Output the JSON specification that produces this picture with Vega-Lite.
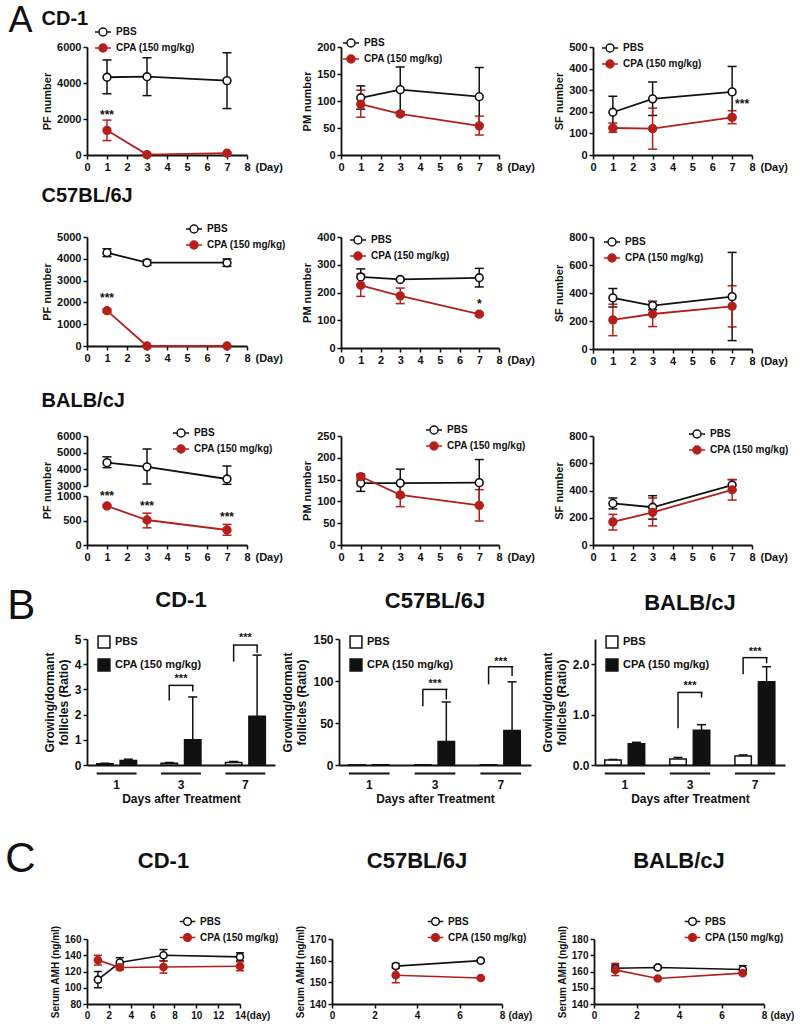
{
"$schema":"https://vega.github.io/schema/vega-lite/v6.json",
"background":"white",
"padding":{"left":5,"top":3,"right":5,"bottom":3},
"config":{
 "font":"Liberation Sans",
 "numberFormat":"d",
 "view":{"stroke":null},
 "axis":{"labelFont":"Liberation Sans","labelFontWeight":"bold","labelFontSize":11,"labelColor":"#111","titleFont":"Liberation Sans","titleFontWeight":"bold","titleFontSize":11,"titleColor":"#111","domainColor":"#111","domainWidth":1.8,"tickColor":"#111","tickWidth":1.5,"tickSize":4,"grid":false,"labelPadding":2,"titlePadding":4,"labelOverlap":false,"labelFlush":false},
 "legend":{"labelFont":"Liberation Sans","labelFontWeight":"bold","labelFontSize":10,"labelColor":"#111","symbolStrokeWidth":1.5,"rowPadding":-3,"labelOffset":4,"padding":0},
 "title":{"font":"Liberation Sans","fontWeight":"bold","color":"#111"},
 "point":{"opacity":1},
 "tick":{"opacity":1}
},
"columns":1,
"align":"none",
"spacing":23,
"resolve":{"scale":{"color":"independent","stroke":"independent","fill":"independent"}},
"concat":[
{
 "title":{"text":"A","anchor":"start","align":"left","baseline":"top","offset":-31,"dx":-33,"fontSize":36,"fontWeight":"normal"},
 "spacing":14,
 "resolve":{"scale":{"color":"independent","stroke":"independent","fill":"independent"}},
 "vconcat":[
 {
  "title":{"text":"CD-1","anchor":"start","fontSize":20,"offset":-6},
  "spacing":94,"bounds":"flush",
  "resolve":{"scale":{"color":"independent","stroke":"independent","fill":"independent"}},
  "hconcat":[
   {"width":160,"height":108,
    "data":{"values":[
     {"day":1,"group":"PBS","mean":4320,"lo":3400,"hi":5280},
     {"day":3,"group":"PBS","mean":4350,"lo":3300,"hi":5400},
     {"day":7,"group":"PBS","mean":4130,"lo":2580,"hi":5680},
     {"day":1,"group":"CPA (150 mg/kg)","mean":1370,"lo":800,"hi":1940},
     {"day":3,"group":"CPA (150 mg/kg)","mean":20,"lo":0,"hi":40},
     {"day":7,"group":"CPA (150 mg/kg)","mean":100,"lo":60,"hi":140}]},
    "encoding":{"x":{"field":"day","type":"quantitative","scale":{"domain":[0,8],"nice":false},"axis":{"values":[0,1,2,3,4,5,6,7,8],"tickCount":20,"title":"(Day)","titleX":168,"titleY":6,"titleAlign":"left","titleBaseline":"top"}}},
    "layer":[
     {"mark":{"type":"errorbar","thickness":1.5,"ticks":{"size":9,"thickness":1.5}},"encoding":{"y":{"field":"lo","type":"quantitative","scale":{"domain":[0,6000],"nice":false},"axis":{"values":[0,2000,4000,6000],"tickCount":20,"title":"PF number"}},"y2":{"field":"hi"},"color":{"field":"group","type":"nominal","scale":{"domain":["CPA (150 mg/kg)","PBS"],"range":["#b3201c","#111"]},"legend":null}}},
     {"mark":{"type":"line","strokeWidth":1.8},"encoding":{"y":{"field":"mean","type":"quantitative"},"stroke":{"field":"group","type":"nominal","scale":{"domain":["PBS","CPA (150 mg/kg)"],"range":["#111","#b3201c"]}}}},
     {"mark":{"type":"point","filled":true,"size":60,"strokeWidth":1.6,"opacity":1},"encoding":{"y":{"field":"mean","type":"quantitative"},"stroke":{"field":"group","type":"nominal","legend":{"orient":"none","legendX":7,"legendY":-24,"title":null,"symbolType":"M-1,0L-0.5,0M0.5,0L1,0M0.5,0A0.5,0.5,0,1,1,-0.5,0A0.5,0.5,0,1,1,0.5,0Z","symbolSize":256}},"fill":{"field":"group","type":"nominal","scale":{"domain":["PBS","CPA (150 mg/kg)"],"range":["white","#b3201c"]},"legend":{"orient":"none","legendX":7,"legendY":-24,"title":null,"symbolType":"M-1,0L-0.5,0M0.5,0L1,0M0.5,0A0.5,0.5,0,1,1,-0.5,0A0.5,0.5,0,1,1,0.5,0Z","symbolSize":256}}}},
     {"data":{"values":[{"day":1,"sy":2250,"s":"***"}]},"mark":{"type":"text","fontWeight":"bold","fontSize":12,"color":"#111"},"encoding":{"y":{"field":"sy","type":"quantitative"},"text":{"field":"s"}}}
    ]},
   {"width":158,"height":108,
    "data":{"values":[
     {"day":1,"group":"PBS","mean":106,"lo":85,"hi":128},
     {"day":3,"group":"PBS","mean":121,"lo":80,"hi":163},
     {"day":7,"group":"PBS","mean":108,"lo":55,"hi":162},
     {"day":1,"group":"CPA (150 mg/kg)","mean":94,"lo":70,"hi":120},
     {"day":3,"group":"CPA (150 mg/kg)","mean":76,"lo":73,"hi":79},
     {"day":7,"group":"CPA (150 mg/kg)","mean":54,"lo":37,"hi":72}]},
    "encoding":{"x":{"field":"day","type":"quantitative","scale":{"domain":[0,8],"nice":false},"axis":{"values":[0,1,2,3,4,5,6,7,8],"tickCount":20,"title":"(Day)","titleX":166,"titleY":6,"titleAlign":"left","titleBaseline":"top"}}},
    "layer":[
     {"mark":{"type":"errorbar","thickness":1.5,"ticks":{"size":9,"thickness":1.5}},"encoding":{"y":{"field":"lo","type":"quantitative","scale":{"domain":[0,200],"nice":false},"axis":{"values":[0,50,100,150,200],"tickCount":20,"title":"PM number"}},"y2":{"field":"hi"},"color":{"field":"group","type":"nominal","scale":{"domain":["CPA (150 mg/kg)","PBS"],"range":["#b3201c","#111"]},"legend":null}}},
     {"mark":{"type":"line","strokeWidth":1.8},"encoding":{"y":{"field":"mean","type":"quantitative"},"stroke":{"field":"group","type":"nominal","scale":{"domain":["PBS","CPA (150 mg/kg)"],"range":["#111","#b3201c"]}}}},
     {"mark":{"type":"point","filled":true,"size":60,"strokeWidth":1.6,"opacity":1},"encoding":{"y":{"field":"mean","type":"quantitative"},"stroke":{"field":"group","type":"nominal","legend":{"orient":"none","legendX":1,"legendY":-13,"title":null,"symbolType":"M-1,0L-0.5,0M0.5,0L1,0M0.5,0A0.5,0.5,0,1,1,-0.5,0A0.5,0.5,0,1,1,0.5,0Z","symbolSize":256}},"fill":{"field":"group","type":"nominal","scale":{"domain":["PBS","CPA (150 mg/kg)"],"range":["white","#b3201c"]},"legend":{"orient":"none","legendX":1,"legendY":-13,"title":null,"symbolType":"M-1,0L-0.5,0M0.5,0L1,0M0.5,0A0.5,0.5,0,1,1,-0.5,0A0.5,0.5,0,1,1,0.5,0Z","symbolSize":256}}}}
    ]},
   {"width":159,"height":108,
    "data":{"values":[
     {"day":1,"group":"PBS","mean":198,"lo":125,"hi":272},
     {"day":3,"group":"PBS","mean":260,"lo":183,"hi":338},
     {"day":7,"group":"PBS","mean":292,"lo":175,"hi":410},
     {"day":1,"group":"CPA (150 mg/kg)","mean":125,"lo":105,"hi":148},
     {"day":3,"group":"CPA (150 mg/kg)","mean":122,"lo":27,"hi":217},
     {"day":7,"group":"CPA (150 mg/kg)","mean":174,"lo":145,"hi":205}]},
    "encoding":{"x":{"field":"day","type":"quantitative","scale":{"domain":[0,8],"nice":false},"axis":{"values":[0,1,2,3,4,5,6,7,8],"tickCount":20,"title":"(Day)","titleX":167,"titleY":6,"titleAlign":"left","titleBaseline":"top"}}},
    "layer":[
     {"mark":{"type":"errorbar","thickness":1.5,"ticks":{"size":9,"thickness":1.5}},"encoding":{"y":{"field":"lo","type":"quantitative","scale":{"domain":[0,500],"nice":false},"axis":{"values":[0,100,200,300,400,500],"tickCount":20,"title":"SF number"}},"y2":{"field":"hi"},"color":{"field":"group","type":"nominal","scale":{"domain":["CPA (150 mg/kg)","PBS"],"range":["#b3201c","#111"]},"legend":null}}},
     {"mark":{"type":"line","strokeWidth":1.8},"encoding":{"y":{"field":"mean","type":"quantitative"},"stroke":{"field":"group","type":"nominal","scale":{"domain":["PBS","CPA (150 mg/kg)"],"range":["#111","#b3201c"]}}}},
     {"mark":{"type":"point","filled":true,"size":60,"strokeWidth":1.6,"opacity":1},"encoding":{"y":{"field":"mean","type":"quantitative"},"stroke":{"field":"group","type":"nominal","legend":{"orient":"none","legendX":8,"legendY":-8,"title":null,"symbolType":"M-1,0L-0.5,0M0.5,0L1,0M0.5,0A0.5,0.5,0,1,1,-0.5,0A0.5,0.5,0,1,1,0.5,0Z","symbolSize":256}},"fill":{"field":"group","type":"nominal","scale":{"domain":["PBS","CPA (150 mg/kg)"],"range":["white","#b3201c"]},"legend":{"orient":"none","legendX":8,"legendY":-8,"title":null,"symbolType":"M-1,0L-0.5,0M0.5,0L1,0M0.5,0A0.5,0.5,0,1,1,-0.5,0A0.5,0.5,0,1,1,0.5,0Z","symbolSize":256}}}},
     {"data":{"values":[{"day":7.5,"sy":235,"s":"***"}]},"mark":{"type":"text","fontWeight":"bold","fontSize":12,"color":"#111"},"encoding":{"y":{"field":"sy","type":"quantitative"},"text":{"field":"s"}}}
    ]}
  ]
 },
 {
  "title":{"text":"C57BL/6J","anchor":"start","fontSize":20,"offset":14},
  "spacing":94,"bounds":"flush",
  "resolve":{"scale":{"color":"independent","stroke":"independent","fill":"independent"}},
  "hconcat":[
   {"width":160,"height":109,
    "data":{"values":[
     {"day":1,"group":"PBS","mean":4280,"lo":4100,"hi":4460},
     {"day":3,"group":"PBS","mean":3820,"lo":3700,"hi":3940},
     {"day":7,"group":"PBS","mean":3820,"lo":3650,"hi":3990},
     {"day":1,"group":"CPA (150 mg/kg)","mean":1620,"lo":1550,"hi":1690},
     {"day":3,"group":"CPA (150 mg/kg)","mean":0,"lo":0,"hi":0},
     {"day":7,"group":"CPA (150 mg/kg)","mean":0,"lo":0,"hi":0}]},
    "encoding":{"x":{"field":"day","type":"quantitative","scale":{"domain":[0,8],"nice":false},"axis":{"values":[0,1,2,3,4,5,6,7,8],"tickCount":20,"title":"(Day)","titleX":168,"titleY":6,"titleAlign":"left","titleBaseline":"top"}}},
    "layer":[
     {"mark":{"type":"errorbar","thickness":1.5,"ticks":{"size":9,"thickness":1.5}},"encoding":{"y":{"field":"lo","type":"quantitative","scale":{"domain":[0,5000],"nice":false},"axis":{"values":[0,1000,2000,3000,4000,5000],"tickCount":20,"title":"PF  number"}},"y2":{"field":"hi"},"color":{"field":"group","type":"nominal","scale":{"domain":["CPA (150 mg/kg)","PBS"],"range":["#b3201c","#111"]},"legend":null}}},
     {"mark":{"type":"line","strokeWidth":1.8},"encoding":{"y":{"field":"mean","type":"quantitative"},"stroke":{"field":"group","type":"nominal","scale":{"domain":["PBS","CPA (150 mg/kg)"],"range":["#111","#b3201c"]}}}},
     {"mark":{"type":"point","filled":true,"size":60,"strokeWidth":1.6,"opacity":1},"encoding":{"y":{"field":"mean","type":"quantitative"},"stroke":{"field":"group","type":"nominal","legend":{"orient":"none","legendX":98,"legendY":-17,"title":null,"symbolType":"M-1,0L-0.5,0M0.5,0L1,0M0.5,0A0.5,0.5,0,1,1,-0.5,0A0.5,0.5,0,1,1,0.5,0Z","symbolSize":256}},"fill":{"field":"group","type":"nominal","scale":{"domain":["PBS","CPA (150 mg/kg)"],"range":["white","#b3201c"]},"legend":{"orient":"none","legendX":98,"legendY":-17,"title":null,"symbolType":"M-1,0L-0.5,0M0.5,0L1,0M0.5,0A0.5,0.5,0,1,1,-0.5,0A0.5,0.5,0,1,1,0.5,0Z","symbolSize":256}}}},
     {"data":{"values":[{"day":1,"sy":2180,"s":"***"}]},"mark":{"type":"text","fontWeight":"bold","fontSize":12,"color":"#111"},"encoding":{"y":{"field":"sy","type":"quantitative"},"text":{"field":"s"}}}
    ]},
   {"width":158,"height":111,
    "data":{"values":[
     {"day":1,"group":"PBS","mean":256,"lo":226,"hi":285},
     {"day":3,"group":"PBS","mean":247,"lo":243,"hi":251},
     {"day":7,"group":"PBS","mean":253,"lo":220,"hi":287},
     {"day":1,"group":"CPA (150 mg/kg)","mean":226,"lo":186,"hi":266},
     {"day":3,"group":"CPA (150 mg/kg)","mean":188,"lo":160,"hi":216},
     {"day":7,"group":"CPA (150 mg/kg)","mean":122,"lo":117,"hi":127}]},
    "encoding":{"x":{"field":"day","type":"quantitative","scale":{"domain":[0,8],"nice":false},"axis":{"values":[0,1,2,3,4,5,6,7,8],"tickCount":20,"title":"(Day)","titleX":166,"titleY":6,"titleAlign":"left","titleBaseline":"top"}}},
    "layer":[
     {"mark":{"type":"errorbar","thickness":1.5,"ticks":{"size":9,"thickness":1.5}},"encoding":{"y":{"field":"lo","type":"quantitative","scale":{"domain":[0,400],"nice":false},"axis":{"values":[0,100,200,300,400],"tickCount":20,"title":"PM number"}},"y2":{"field":"hi"},"color":{"field":"group","type":"nominal","scale":{"domain":["CPA (150 mg/kg)","PBS"],"range":["#b3201c","#111"]},"legend":null}}},
     {"mark":{"type":"line","strokeWidth":1.8},"encoding":{"y":{"field":"mean","type":"quantitative"},"stroke":{"field":"group","type":"nominal","scale":{"domain":["PBS","CPA (150 mg/kg)"],"range":["#111","#b3201c"]}}}},
     {"mark":{"type":"point","filled":true,"size":60,"strokeWidth":1.6,"opacity":1},"encoding":{"y":{"field":"mean","type":"quantitative"},"stroke":{"field":"group","type":"nominal","legend":{"orient":"none","legendX":8,"legendY":-6,"title":null,"symbolType":"M-1,0L-0.5,0M0.5,0L1,0M0.5,0A0.5,0.5,0,1,1,-0.5,0A0.5,0.5,0,1,1,0.5,0Z","symbolSize":256}},"fill":{"field":"group","type":"nominal","scale":{"domain":["PBS","CPA (150 mg/kg)"],"range":["white","#b3201c"]},"legend":{"orient":"none","legendX":8,"legendY":-6,"title":null,"symbolType":"M-1,0L-0.5,0M0.5,0L1,0M0.5,0A0.5,0.5,0,1,1,-0.5,0A0.5,0.5,0,1,1,0.5,0Z","symbolSize":256}}}},
     {"data":{"values":[{"day":7,"sy":160,"s":"*"}]},"mark":{"type":"text","fontWeight":"bold","fontSize":12,"color":"#111"},"encoding":{"y":{"field":"sy","type":"quantitative"},"text":{"field":"s"}}}
    ]},
   {"width":159,"height":112,
    "data":{"values":[
     {"day":1,"group":"PBS","mean":365,"lo":300,"hi":432},
     {"day":3,"group":"PBS","mean":310,"lo":280,"hi":340},
     {"day":7,"group":"PBS","mean":374,"lo":60,"hi":690},
     {"day":1,"group":"CPA (150 mg/kg)","mean":208,"lo":95,"hi":320},
     {"day":3,"group":"CPA (150 mg/kg)","mean":250,"lo":160,"hi":340},
     {"day":7,"group":"CPA (150 mg/kg)","mean":305,"lo":158,"hi":452}]},
    "encoding":{"x":{"field":"day","type":"quantitative","scale":{"domain":[0,8],"nice":false},"axis":{"values":[0,1,2,3,4,5,6,7,8],"tickCount":20,"title":"(Day)","titleX":167,"titleY":6,"titleAlign":"left","titleBaseline":"top"}}},
    "layer":[
     {"mark":{"type":"errorbar","thickness":1.5,"ticks":{"size":9,"thickness":1.5}},"encoding":{"y":{"field":"lo","type":"quantitative","scale":{"domain":[0,800],"nice":false},"axis":{"values":[0,200,400,600,800],"tickCount":20,"title":"SF number"}},"y2":{"field":"hi"},"color":{"field":"group","type":"nominal","scale":{"domain":["CPA (150 mg/kg)","PBS"],"range":["#b3201c","#111"]},"legend":null}}},
     {"mark":{"type":"line","strokeWidth":1.8},"encoding":{"y":{"field":"mean","type":"quantitative"},"stroke":{"field":"group","type":"nominal","scale":{"domain":["PBS","CPA (150 mg/kg)"],"range":["#111","#b3201c"]}}}},
     {"mark":{"type":"point","filled":true,"size":60,"strokeWidth":1.6,"opacity":1},"encoding":{"y":{"field":"mean","type":"quantitative"},"stroke":{"field":"group","type":"nominal","legend":{"orient":"none","legendX":10,"legendY":-4,"title":null,"symbolType":"M-1,0L-0.5,0M0.5,0L1,0M0.5,0A0.5,0.5,0,1,1,-0.5,0A0.5,0.5,0,1,1,0.5,0Z","symbolSize":256}},"fill":{"field":"group","type":"nominal","scale":{"domain":["PBS","CPA (150 mg/kg)"],"range":["white","#b3201c"]},"legend":{"orient":"none","legendX":10,"legendY":-4,"title":null,"symbolType":"M-1,0L-0.5,0M0.5,0L1,0M0.5,0A0.5,0.5,0,1,1,-0.5,0A0.5,0.5,0,1,1,0.5,0Z","symbolSize":256}}}}
    ]}
  ]
 },
 {
  "title":{"text":["","BALB/cJ"],"lineHeight":11,"anchor":"start","fontSize":20,"offset":10},
  "spacing":94,"bounds":"flush",
  "resolve":{"scale":{"color":"independent","stroke":"independent","fill":"independent"}},
  "hconcat":[
   {"width":160,"height":109,
    "encoding":{"x":{"field":"day","type":"quantitative","scale":{"domain":[0,8],"nice":false},"axis":{"values":[0,1,2,3,4,5,6,7,8],"tickCount":20,"title":"(Day)","titleX":168,"titleY":6,"titleAlign":"left","titleBaseline":"top"}}},
    "resolve":{"scale":{"y":"independent"}},
    "layer":[
     {"data":{"values":[
       {"day":1,"group":"PBS","mean":4400,"lo":4100,"hi":4750},
       {"day":3,"group":"PBS","mean":4150,"lo":3120,"hi":5220},
       {"day":7,"group":"PBS","mean":3420,"lo":3100,"hi":4200}]},
      "layer":[
       {"mark":{"type":"errorbar","thickness":1.5,"ticks":{"size":9,"thickness":1.5}},"encoding":{"y":{"field":"lo","type":"quantitative","scale":{"domain":[3000,6000],"range":[50,0],"nice":false,"zero":false},"axis":{"values":[3000,4000,5000,6000],"tickCount":20,"title":null,"orient":"left"}},"y2":{"field":"hi"},"color":{"field":"group","type":"nominal","scale":{"domain":["CPA (150 mg/kg)","PBS"],"range":["#b3201c","#111"]},"legend":null}}},
       {"mark":{"type":"line","strokeWidth":1.8},"encoding":{"y":{"field":"mean","type":"quantitative"},"stroke":{"field":"group","type":"nominal","scale":{"domain":["PBS","CPA (150 mg/kg)"],"range":["#111","#b3201c"]}}}},
       {"mark":{"type":"point","filled":true,"size":60,"strokeWidth":1.6,"opacity":1},"encoding":{"y":{"field":"mean","type":"quantitative"},"stroke":{"field":"group","type":"nominal","legend":{"orient":"none","legendX":85,"legendY":-12,"title":null,"symbolType":"M-1,0L-0.5,0M0.5,0L1,0M0.5,0A0.5,0.5,0,1,1,-0.5,0A0.5,0.5,0,1,1,0.5,0Z","symbolSize":256}},"fill":{"field":"group","type":"nominal","scale":{"domain":["PBS","CPA (150 mg/kg)"],"range":["white","#b3201c"]},"legend":{"orient":"none","legendX":85,"legendY":-12,"title":null,"symbolType":"M-1,0L-0.5,0M0.5,0L1,0M0.5,0A0.5,0.5,0,1,1,-0.5,0A0.5,0.5,0,1,1,0.5,0Z","symbolSize":256}}}}
      ]},
     {"data":{"values":[
       {"day":1,"group":"CPA (150 mg/kg)","mean":796,"lo":770,"hi":822},
       {"day":3,"group":"CPA (150 mg/kg)","mean":510,"lo":350,"hi":650},
       {"day":7,"group":"CPA (150 mg/kg)","mean":306,"lo":200,"hi":420}]},
      "layer":[
       {"mark":{"type":"errorbar","thickness":1.5,"ticks":{"size":9,"thickness":1.5}},"encoding":{"y":{"field":"lo","type":"quantitative","scale":{"domain":[0,1000],"range":[109,60],"nice":false},"axis":{"values":[0,500,1000],"tickCount":20,"title":"PF  number","orient":"left","titleY":54}},"y2":{"field":"hi"},"color":{"field":"group","type":"nominal","scale":{"domain":["CPA (150 mg/kg)","PBS"],"range":["#b3201c","#111"]},"legend":null}}},
       {"mark":{"type":"line","strokeWidth":1.8},"encoding":{"y":{"field":"mean","type":"quantitative"},"stroke":{"field":"group","type":"nominal"}}},
       {"mark":{"type":"point","filled":true,"size":60,"strokeWidth":1.6,"opacity":1},"encoding":{"y":{"field":"mean","type":"quantitative"},"stroke":{"field":"group","type":"nominal"},"fill":{"field":"group","type":"nominal"}}},
       {"data":{"values":[{"day":1,"sy":1000,"s":"***"},{"day":3,"sy":800,"s":"***"},{"day":7,"sy":570,"s":"***"}]},"mark":{"type":"text","fontWeight":"bold","fontSize":12,"color":"#111"},"encoding":{"y":{"field":"sy","type":"quantitative"},"text":{"field":"s"}}}
      ]}
    ]},
   {"width":158,"height":109,
    "data":{"values":[
     {"day":1,"group":"PBS","mean":142,"lo":123,"hi":160},
     {"day":3,"group":"PBS","mean":142,"lo":110,"hi":174},
     {"day":7,"group":"PBS","mean":143,"lo":90,"hi":196},
     {"day":1,"group":"CPA (150 mg/kg)","mean":157,"lo":150,"hi":163},
     {"day":3,"group":"CPA (150 mg/kg)","mean":115,"lo":88,"hi":140},
     {"day":7,"group":"CPA (150 mg/kg)","mean":91,"lo":55,"hi":127}]},
    "encoding":{"x":{"field":"day","type":"quantitative","scale":{"domain":[0,8],"nice":false},"axis":{"values":[0,1,2,3,4,5,6,7,8],"tickCount":20,"title":"(Day)","titleX":166,"titleY":6,"titleAlign":"left","titleBaseline":"top"}}},
    "layer":[
     {"mark":{"type":"errorbar","thickness":1.5,"ticks":{"size":9,"thickness":1.5}},"encoding":{"y":{"field":"lo","type":"quantitative","scale":{"domain":[0,250],"nice":false},"axis":{"values":[0,50,100,150,200,250],"tickCount":20,"title":"PM number"}},"y2":{"field":"hi"},"color":{"field":"group","type":"nominal","scale":{"domain":["CPA (150 mg/kg)","PBS"],"range":["#b3201c","#111"]},"legend":null}}},
     {"mark":{"type":"line","strokeWidth":1.8},"encoding":{"y":{"field":"mean","type":"quantitative"},"stroke":{"field":"group","type":"nominal","scale":{"domain":["PBS","CPA (150 mg/kg)"],"range":["#111","#b3201c"]}}}},
     {"mark":{"type":"point","filled":true,"size":60,"strokeWidth":1.6,"opacity":1},"encoding":{"y":{"field":"mean","type":"quantitative"},"stroke":{"field":"group","type":"nominal","legend":{"orient":"none","legendX":84,"legendY":-15,"title":null,"symbolType":"M-1,0L-0.5,0M0.5,0L1,0M0.5,0A0.5,0.5,0,1,1,-0.5,0A0.5,0.5,0,1,1,0.5,0Z","symbolSize":256}},"fill":{"field":"group","type":"nominal","scale":{"domain":["PBS","CPA (150 mg/kg)"],"range":["white","#b3201c"]},"legend":{"orient":"none","legendX":84,"legendY":-15,"title":null,"symbolType":"M-1,0L-0.5,0M0.5,0L1,0M0.5,0A0.5,0.5,0,1,1,-0.5,0A0.5,0.5,0,1,1,0.5,0Z","symbolSize":256}}}}
    ]},
   {"width":159,"height":109,
    "data":{"values":[
     {"day":1,"group":"PBS","mean":305,"lo":265,"hi":345},
     {"day":3,"group":"PBS","mean":277,"lo":190,"hi":362},
     {"day":7,"group":"PBS","mean":440,"lo":400,"hi":480},
     {"day":1,"group":"CPA (150 mg/kg)","mean":170,"lo":110,"hi":225},
     {"day":3,"group":"CPA (150 mg/kg)","mean":240,"lo":140,"hi":345},
     {"day":7,"group":"CPA (150 mg/kg)","mean":405,"lo":330,"hi":480}]},
    "encoding":{"x":{"field":"day","type":"quantitative","scale":{"domain":[0,8],"nice":false},"axis":{"values":[0,1,2,3,4,5,6,7,8],"tickCount":20,"title":"(Day)","titleX":167,"titleY":6,"titleAlign":"left","titleBaseline":"top"}}},
    "layer":[
     {"mark":{"type":"errorbar","thickness":1.5,"ticks":{"size":9,"thickness":1.5}},"encoding":{"y":{"field":"lo","type":"quantitative","scale":{"domain":[0,800],"nice":false},"axis":{"values":[0,200,400,600,800],"tickCount":20,"title":"SF number"}},"y2":{"field":"hi"},"color":{"field":"group","type":"nominal","scale":{"domain":["CPA (150 mg/kg)","PBS"],"range":["#b3201c","#111"]},"legend":null}}},
     {"mark":{"type":"line","strokeWidth":1.8},"encoding":{"y":{"field":"mean","type":"quantitative"},"stroke":{"field":"group","type":"nominal","scale":{"domain":["PBS","CPA (150 mg/kg)"],"range":["#111","#b3201c"]}}}},
     {"mark":{"type":"point","filled":true,"size":60,"strokeWidth":1.6,"opacity":1},"encoding":{"y":{"field":"mean","type":"quantitative"},"stroke":{"field":"group","type":"nominal","legend":{"orient":"none","legendX":95,"legendY":-11,"title":null,"symbolType":"M-1,0L-0.5,0M0.5,0L1,0M0.5,0A0.5,0.5,0,1,1,-0.5,0A0.5,0.5,0,1,1,0.5,0Z","symbolSize":256}},"fill":{"field":"group","type":"nominal","scale":{"domain":["PBS","CPA (150 mg/kg)"],"range":["white","#b3201c"]},"legend":{"orient":"none","legendX":95,"legendY":-11,"title":null,"symbolType":"M-1,0L-0.5,0M0.5,0L1,0M0.5,0A0.5,0.5,0,1,1,-0.5,0A0.5,0.5,0,1,1,0.5,0Z","symbolSize":256}}}}
    ]}
  ]
 }
 ]
},
{
 "title":{"text":"B","anchor":"start","align":"left","baseline":"top","offset":-39,"dx":-36,"fontSize":42,"fontWeight":"normal"},
 "spacing":64,"bounds":"flush",
 "resolve":{"scale":{"color":"independent","stroke":"independent","fill":"independent"}},
 "hconcat":[
  {"width":188,"height":126,
   "title":{"text":"CD-1","frame":"group","fontSize":22,"font":"Liberation Sans Narrow, Liberation Sans","offset":20},
   "layer":[
    {"data":{"values":[
      {"day":"1","group":"PBS","mean":0.05,"hi":0.07},
      {"day":"1","group":"CPA (150 mg/kg)","mean":0.18,"hi":0.23},
      {"day":"3","group":"PBS","mean":0.07,"hi":0.1},
      {"day":"3","group":"CPA (150 mg/kg)","mean":1.0,"hi":2.7},
      {"day":"7","group":"PBS","mean":0.1,"hi":0.14},
      {"day":"7","group":"CPA (150 mg/kg)","mean":1.93,"hi":4.36}]},
     "mark":{"type":"bar","stroke":"#111","strokeWidth":1.5},
     "encoding":{
      "x":{"field":"day","type":"nominal","scale":{"domain":["1","3","7"],"paddingInner":0.38,"paddingOuter":0.15},"axis":{"title":"Days after Treatment","ticks":false,"labelPadding":14,"labelAngle":0,"labelFontSize":12,"titleFontSize":12,"titlePadding":3,"labelFont":"Liberation Sans Narrow, Liberation Sans","titleFont":"Liberation Sans Narrow, Liberation Sans"}},
      "xOffset":{"field":"group","type":"nominal","scale":{"domain":["PBS","CPA (150 mg/kg)"],"paddingInner":0.3}},
      "y":{"field":"mean","type":"quantitative","scale":{"domain":[0,5],"nice":false},"axis":{"values":[0,1,2,3,4,5],"tickCount":20,"title":["Growing/dormant","follicles (Ratio)"],"titleFontSize":12,"labelFontSize":12,"labelFont":"Liberation Sans Narrow, Liberation Sans","titleFont":"Liberation Sans Narrow, Liberation Sans"}},
      "fill":{"field":"group","type":"nominal","scale":{"domain":["PBS","CPA (150 mg/kg)"],"range":["white","#111"]},"legend":{"orient":"none","legendX":10,"legendY":-4,"title":null,"symbolType":"square","symbolSize":140,"symbolStrokeColor":"#111","symbolStrokeWidth":1.5,"labelFontSize":11,"rowPadding":5,"labelFont":"Liberation Sans Narrow, Liberation Sans"}}}},
    {"data":{"values":[
      {"day":"1","group":"PBS","mean":0.05,"hi":0.07},
      {"day":"1","group":"CPA (150 mg/kg)","mean":0.18,"hi":0.23},
      {"day":"3","group":"PBS","mean":0.07,"hi":0.1},
      {"day":"3","group":"CPA (150 mg/kg)","mean":1.0,"hi":2.7},
      {"day":"7","group":"PBS","mean":0.1,"hi":0.14},
      {"day":"7","group":"CPA (150 mg/kg)","mean":1.93,"hi":4.36}]},
     "mark":{"type":"rule","strokeWidth":1.5,"color":"#111"},
     "encoding":{"x":{"field":"day","type":"nominal"},"xOffset":{"field":"group","type":"nominal"},"y":{"field":"mean","type":"quantitative"},"y2":{"field":"hi"}}},
    {"data":{"values":[
      {"day":"1","group":"PBS","hi":0.07},
      {"day":"1","group":"CPA (150 mg/kg)","hi":0.23},
      {"day":"3","group":"PBS","hi":0.1},
      {"day":"3","group":"CPA (150 mg/kg)","hi":2.7},
      {"day":"7","group":"PBS","hi":0.14},
      {"day":"7","group":"CPA (150 mg/kg)","hi":4.36}]},
     "mark":{"type":"tick","orient":"horizontal","size":9,"thickness":1.5,"color":"#111","opacity":1},
     "encoding":{"x":{"field":"day","type":"nominal"},"xOffset":{"field":"group","type":"nominal"},"y":{"field":"hi","type":"quantitative"}}},
    {"data":{"values":[{"day":"1"},{"day":"3"},{"day":"7"}]},
     "mark":{"type":"bar","color":"#111"},
     "encoding":{"x":{"field":"day","type":"nominal"},"y":{"datum":-0.3},"y2":{"datum":-0.38}}},
    {"data":{"values":[{"day":"3","top":3.16,"pl":2.56,"cl":2.92,"star":3.42},{"day":"7","top":4.76,"pl":4.1,"cl":4.45,"star":5.02}]},
     "layer":[
      {"mark":{"type":"rule","strokeWidth":1.5,"color":"#111"},"encoding":{"x":{"field":"day","type":"nominal"},"xOffset":{"datum":"PBS"},"y":{"field":"pl","type":"quantitative"},"y2":{"field":"top"}}},
      {"mark":{"type":"rule","strokeWidth":1.5,"color":"#111"},"encoding":{"x":{"field":"day","type":"nominal"},"xOffset":{"datum":"CPA (150 mg/kg)"},"y":{"field":"cl","type":"quantitative"},"y2":{"field":"top"}}},
      {"mark":{"type":"tick","orient":"horizontal","size":25,"thickness":1.5,"color":"#111","opacity":1},"encoding":{"x":{"field":"day","type":"nominal"},"y":{"field":"top","type":"quantitative"}}},
      {"mark":{"type":"text","fontWeight":"bold","fontSize":11,"font":"Liberation Sans Narrow, Liberation Sans","color":"#111"},"encoding":{"x":{"field":"day","type":"nominal"},"y":{"field":"star","type":"quantitative"},"text":{"value":"***"}}}
     ]}
   ]},
  {"width":192,"height":126,
   "title":{"text":"C57BL/6J","frame":"group","fontSize":22,"font":"Liberation Sans Narrow, Liberation Sans","offset":20},
   "layer":[
    {"data":{"values":[
      {"day":"1","group":"PBS","mean":0.2,"hi":0.3},
      {"day":"1","group":"CPA (150 mg/kg)","mean":0.3,"hi":0.5},
      {"day":"3","group":"PBS","mean":0.3,"hi":0.5},
      {"day":"3","group":"CPA (150 mg/kg)","mean":28,"hi":75},
      {"day":"7","group":"PBS","mean":0.3,"hi":0.5},
      {"day":"7","group":"CPA (150 mg/kg)","mean":41,"hi":99}]},
     "mark":{"type":"bar","stroke":"#111","strokeWidth":1.5},
     "encoding":{
      "x":{"field":"day","type":"nominal","scale":{"domain":["1","3","7"],"paddingInner":0.38,"paddingOuter":0.15},"axis":{"title":"Days after Treatment","ticks":false,"labelPadding":14,"labelAngle":0,"labelFontSize":12,"titleFontSize":12,"titlePadding":3,"labelFont":"Liberation Sans Narrow, Liberation Sans","titleFont":"Liberation Sans Narrow, Liberation Sans"}},
      "xOffset":{"field":"group","type":"nominal","scale":{"domain":["PBS","CPA (150 mg/kg)"],"paddingInner":0.3}},
      "y":{"field":"mean","type":"quantitative","scale":{"domain":[0,150],"nice":false},"axis":{"values":[0,50,100,150],"tickCount":20,"title":["Growing/dormant","follicles (Ratio)"],"titleFontSize":12,"labelFontSize":12,"labelFont":"Liberation Sans Narrow, Liberation Sans","titleFont":"Liberation Sans Narrow, Liberation Sans"}},
      "fill":{"field":"group","type":"nominal","scale":{"domain":["PBS","CPA (150 mg/kg)"],"range":["white","#111"]},"legend":{"orient":"none","legendX":10,"legendY":-4,"title":null,"symbolType":"square","symbolSize":140,"symbolStrokeColor":"#111","symbolStrokeWidth":1.5,"labelFontSize":11,"rowPadding":5,"labelFont":"Liberation Sans Narrow, Liberation Sans"}}}},
    {"data":{"values":[
      {"day":"1","group":"PBS","mean":0.2,"hi":0.3},
      {"day":"1","group":"CPA (150 mg/kg)","mean":0.3,"hi":0.5},
      {"day":"3","group":"PBS","mean":0.3,"hi":0.5},
      {"day":"3","group":"CPA (150 mg/kg)","mean":28,"hi":75},
      {"day":"7","group":"PBS","mean":0.3,"hi":0.5},
      {"day":"7","group":"CPA (150 mg/kg)","mean":41,"hi":99}]},
     "mark":{"type":"rule","strokeWidth":1.5,"color":"#111"},
     "encoding":{"x":{"field":"day","type":"nominal"},"xOffset":{"field":"group","type":"nominal"},"y":{"field":"mean","type":"quantitative"},"y2":{"field":"hi"}}},
    {"data":{"values":[
      {"day":"3","group":"CPA (150 mg/kg)","hi":75},
      {"day":"7","group":"CPA (150 mg/kg)","hi":99}]},
     "mark":{"type":"tick","orient":"horizontal","size":9,"thickness":1.5,"color":"#111","opacity":1},
     "encoding":{"x":{"field":"day","type":"nominal"},"xOffset":{"field":"group","type":"nominal"},"y":{"field":"hi","type":"quantitative"}}},
    {"data":{"values":[{"day":"1"},{"day":"3"},{"day":"7"}]},
     "mark":{"type":"bar","color":"#111"},
     "encoding":{"x":{"field":"day","type":"nominal"},"y":{"datum":-9},"y2":{"datum":-11.4}}},
    {"data":{"values":[{"day":"3","top":90,"pl":70,"cl":78,"star":96},{"day":"7","top":117,"pl":96,"cl":106,"star":123}]},
     "layer":[
      {"mark":{"type":"rule","strokeWidth":1.5,"color":"#111"},"encoding":{"x":{"field":"day","type":"nominal"},"xOffset":{"datum":"PBS"},"y":{"field":"pl","type":"quantitative"},"y2":{"field":"top"}}},
      {"mark":{"type":"rule","strokeWidth":1.5,"color":"#111"},"encoding":{"x":{"field":"day","type":"nominal"},"xOffset":{"datum":"CPA (150 mg/kg)"},"y":{"field":"cl","type":"quantitative"},"y2":{"field":"top"}}},
      {"mark":{"type":"tick","orient":"horizontal","size":25,"thickness":1.5,"color":"#111","opacity":1},"encoding":{"x":{"field":"day","type":"nominal"},"y":{"field":"top","type":"quantitative"}}},
      {"mark":{"type":"text","fontWeight":"bold","fontSize":11,"font":"Liberation Sans Narrow, Liberation Sans","color":"#111"},"encoding":{"x":{"field":"day","type":"nominal"},"y":{"field":"star","type":"quantitative"},"text":{"value":"***"}}}
     ]}
   ]},
  {"width":190,"height":126,
   "title":{"text":"BALB/cJ","frame":"group","fontSize":22,"font":"Liberation Sans Narrow, Liberation Sans","offset":20},
   "layer":[
    {"data":{"values":[
      {"day":"1","group":"PBS","mean":0.1,"hi":0.11},
      {"day":"1","group":"CPA (150 mg/kg)","mean":0.42,"hi":0.45},
      {"day":"3","group":"PBS","mean":0.12,"hi":0.15},
      {"day":"3","group":"CPA (150 mg/kg)","mean":0.69,"hi":0.8},
      {"day":"7","group":"PBS","mean":0.18,"hi":0.2},
      {"day":"7","group":"CPA (150 mg/kg)","mean":1.65,"hi":1.95}]},
     "mark":{"type":"bar","stroke":"#111","strokeWidth":1.5},
     "encoding":{
      "x":{"field":"day","type":"nominal","scale":{"domain":["1","3","7"],"paddingInner":0.38,"paddingOuter":0.15},"axis":{"title":"Days after Treatment","ticks":false,"labelPadding":14,"labelAngle":0,"labelFontSize":12,"titleFontSize":12,"titlePadding":3,"labelFont":"Liberation Sans Narrow, Liberation Sans","titleFont":"Liberation Sans Narrow, Liberation Sans"}},
      "xOffset":{"field":"group","type":"nominal","scale":{"domain":["PBS","CPA (150 mg/kg)"],"paddingInner":0.3}},
      "y":{"field":"mean","type":"quantitative","scale":{"domain":[0,2.5],"nice":false},"axis":{"values":[0,0.5,1,1.5,2,2.5],"tickCount":20,"format":".1f","title":["Growing/dormant","follicles (Ratio)"],"titleFontSize":12,"labelFontSize":12,"labelFont":"Liberation Sans Narrow, Liberation Sans","titleFont":"Liberation Sans Narrow, Liberation Sans"}},
      "fill":{"field":"group","type":"nominal","scale":{"domain":["PBS","CPA (150 mg/kg)"],"range":["white","#111"]},"legend":{"orient":"none","legendX":10,"legendY":-4,"title":null,"symbolType":"square","symbolSize":140,"symbolStrokeColor":"#111","symbolStrokeWidth":1.5,"labelFontSize":11,"rowPadding":5,"labelFont":"Liberation Sans Narrow, Liberation Sans"}}}},
    {"data":{"values":[
      {"day":"1","group":"PBS","mean":0.1,"hi":0.11},
      {"day":"1","group":"CPA (150 mg/kg)","mean":0.42,"hi":0.45},
      {"day":"3","group":"PBS","mean":0.12,"hi":0.15},
      {"day":"3","group":"CPA (150 mg/kg)","mean":0.69,"hi":0.8},
      {"day":"7","group":"PBS","mean":0.18,"hi":0.2},
      {"day":"7","group":"CPA (150 mg/kg)","mean":1.65,"hi":1.95}]},
     "mark":{"type":"rule","strokeWidth":1.5,"color":"#111"},
     "encoding":{"x":{"field":"day","type":"nominal"},"xOffset":{"field":"group","type":"nominal"},"y":{"field":"mean","type":"quantitative"},"y2":{"field":"hi"}}},
    {"data":{"values":[
      {"day":"1","group":"PBS","hi":0.11},
      {"day":"1","group":"CPA (150 mg/kg)","hi":0.45},
      {"day":"3","group":"PBS","hi":0.15},
      {"day":"3","group":"CPA (150 mg/kg)","hi":0.8},
      {"day":"7","group":"PBS","hi":0.2},
      {"day":"7","group":"CPA (150 mg/kg)","hi":1.95}]},
     "mark":{"type":"tick","orient":"horizontal","size":9,"thickness":1.5,"color":"#111","opacity":1},
     "encoding":{"x":{"field":"day","type":"nominal"},"xOffset":{"field":"group","type":"nominal"},"y":{"field":"hi","type":"quantitative"}}},
    {"data":{"values":[{"day":"1"},{"day":"3"},{"day":"7"}]},
     "mark":{"type":"bar","color":"#111"},
     "encoding":{"x":{"field":"day","type":"nominal"},"y":{"datum":-0.15},"y2":{"datum":-0.19}}},
    {"data":{"values":[{"day":"3","top":1.44,"pl":0.73,"cl":1.34,"star":1.56},{"day":"7","top":2.13,"pl":1.8,"cl":2.02,"star":2.25}]},
     "layer":[
      {"mark":{"type":"rule","strokeWidth":1.5,"color":"#111"},"encoding":{"x":{"field":"day","type":"nominal"},"xOffset":{"datum":"PBS"},"y":{"field":"pl","type":"quantitative"},"y2":{"field":"top"}}},
      {"mark":{"type":"rule","strokeWidth":1.5,"color":"#111"},"encoding":{"x":{"field":"day","type":"nominal"},"xOffset":{"datum":"CPA (150 mg/kg)"},"y":{"field":"cl","type":"quantitative"},"y2":{"field":"top"}}},
      {"mark":{"type":"tick","orient":"horizontal","size":25,"thickness":1.5,"color":"#111","opacity":1},"encoding":{"x":{"field":"day","type":"nominal"},"y":{"field":"top","type":"quantitative"}}},
      {"mark":{"type":"text","fontWeight":"bold","fontSize":11,"font":"Liberation Sans Narrow, Liberation Sans","color":"#111"},"encoding":{"x":{"field":"day","type":"nominal"},"y":{"field":"star","type":"quantitative"},"text":{"value":"***"}}}
     ]}
   ]}
 ]
},
{
 "title":{"text":"C","anchor":"start","align":"left","baseline":"top","offset":-54,"dx":-45,"fontSize":42,"fontWeight":"normal"},
 "spacing":92,"bounds":"flush",
 "resolve":{"scale":{"color":"independent","stroke":"independent","fill":"independent"}},
 "hconcat":[
  {"width":153,"height":65,
   "title":{"text":["","CD-1"],"lineHeight":23,"frame":"group","fontSize":22,"font":"Liberation Sans Narrow, Liberation Sans","offset":40},
   "data":{"values":[
    {"day":1,"group":"PBS","mean":110,"lo":100,"hi":120},
    {"day":3,"group":"PBS","mean":131,"lo":125,"hi":137},
    {"day":7,"group":"PBS","mean":140,"lo":133,"hi":147},
    {"day":14,"group":"PBS","mean":138,"lo":133,"hi":143},
    {"day":1,"group":"CPA (150 mg/kg)","mean":134,"lo":128,"hi":140},
    {"day":3,"group":"CPA (150 mg/kg)","mean":125,"lo":122,"hi":128},
    {"day":7,"group":"CPA (150 mg/kg)","mean":125.5,"lo":118,"hi":133},
    {"day":14,"group":"CPA (150 mg/kg)","mean":126.5,"lo":121,"hi":132}]},
   "encoding":{"x":{"field":"day","type":"quantitative","scale":{"domain":[0,14],"nice":false},"axis":{"values":[0,2,4,6,8,10,12,14],"tickCount":20,"title":"(day)","titleX":159,"titleY":6,"titleAlign":"left","titleBaseline":"top","labelFontSize":10,"titleFontSize":10,"labelFont":"Liberation Sans Narrow, Liberation Sans","titleFont":"Liberation Sans Narrow, Liberation Sans"}}},
   "layer":[
    {"mark":{"type":"errorbar","thickness":1.5,"ticks":{"size":8,"thickness":1.5}},"encoding":{"y":{"field":"lo","type":"quantitative","scale":{"domain":[80,160],"nice":false,"zero":false},"axis":{"values":[80,100,120,140,160],"tickCount":20,"title":"Serum AMH (ng/ml)","labelFontSize":10,"titleFontSize":10,"labelFont":"Liberation Sans Narrow, Liberation Sans","titleFont":"Liberation Sans Narrow, Liberation Sans"}},"y2":{"field":"hi"},"color":{"field":"group","type":"nominal","scale":{"domain":["CPA (150 mg/kg)","PBS"],"range":["#b3201c","#111"]},"legend":null}}},
    {"mark":{"type":"line","strokeWidth":1.6},"encoding":{"y":{"field":"mean","type":"quantitative"},"stroke":{"field":"group","type":"nominal","scale":{"domain":["PBS","CPA (150 mg/kg)"],"range":["#111","#b3201c"]}}}},
    {"mark":{"type":"point","filled":true,"size":50,"strokeWidth":1.6,"opacity":1},"encoding":{"y":{"field":"mean","type":"quantitative"},"stroke":{"field":"group","type":"nominal","legend":{"orient":"none","legendX":92,"legendY":-26,"title":null,"symbolType":"M-1,0L-0.5,0M0.5,0L1,0M0.5,0A0.5,0.5,0,1,1,-0.5,0A0.5,0.5,0,1,1,0.5,0Z","symbolSize":240,"rowPadding":-2,"labelFontSize":10,"labelFont":"Liberation Sans Narrow, Liberation Sans"}},"fill":{"field":"group","type":"nominal","scale":{"domain":["PBS","CPA (150 mg/kg)"],"range":["white","#b3201c"]},"legend":{"orient":"none","legendX":92,"legendY":-26,"title":null,"symbolType":"M-1,0L-0.5,0M0.5,0L1,0M0.5,0A0.5,0.5,0,1,1,-0.5,0A0.5,0.5,0,1,1,0.5,0Z","symbolSize":240,"rowPadding":-2,"labelFontSize":10,"labelFont":"Liberation Sans Narrow, Liberation Sans"}}}}
   ]},
  {"width":170,"height":65,
   "title":{"text":["","C57BL/6J"],"lineHeight":23,"frame":"group","fontSize":22,"font":"Liberation Sans Narrow, Liberation Sans","offset":40},
   "data":{"values":[
    {"day":3,"group":"PBS","mean":157.5,"lo":156.5,"hi":158.7},
    {"day":7,"group":"PBS","mean":160,"lo":159.5,"hi":160.5},
    {"day":3,"group":"CPA (150 mg/kg)","mean":153.3,"lo":149.8,"hi":156.8},
    {"day":7,"group":"CPA (150 mg/kg)","mean":152,"lo":151.5,"hi":152.5}]},
   "encoding":{"x":{"field":"day","type":"quantitative","scale":{"domain":[0,8],"nice":false},"axis":{"values":[0,2,4,6,8],"tickCount":20,"title":"(day)","titleX":176,"titleY":6,"titleAlign":"left","titleBaseline":"top","labelFontSize":10,"titleFontSize":10,"labelFont":"Liberation Sans Narrow, Liberation Sans","titleFont":"Liberation Sans Narrow, Liberation Sans"}}},
   "layer":[
    {"mark":{"type":"errorbar","thickness":1.5,"ticks":{"size":8,"thickness":1.5}},"encoding":{"y":{"field":"lo","type":"quantitative","scale":{"domain":[140,170],"nice":false,"zero":false},"axis":{"values":[140,150,160,170],"tickCount":20,"title":"Serum AMH (ng/ml)","labelFontSize":10,"titleFontSize":10,"labelFont":"Liberation Sans Narrow, Liberation Sans","titleFont":"Liberation Sans Narrow, Liberation Sans"}},"y2":{"field":"hi"},"color":{"field":"group","type":"nominal","scale":{"domain":["CPA (150 mg/kg)","PBS"],"range":["#b3201c","#111"]},"legend":null}}},
    {"mark":{"type":"line","strokeWidth":1.6},"encoding":{"y":{"field":"mean","type":"quantitative"},"stroke":{"field":"group","type":"nominal","scale":{"domain":["PBS","CPA (150 mg/kg)"],"range":["#111","#b3201c"]}}}},
    {"mark":{"type":"point","filled":true,"size":50,"strokeWidth":1.6,"opacity":1},"encoding":{"y":{"field":"mean","type":"quantitative"},"stroke":{"field":"group","type":"nominal","legend":{"orient":"none","legendX":95,"legendY":-26,"title":null,"symbolType":"M-1,0L-0.5,0M0.5,0L1,0M0.5,0A0.5,0.5,0,1,1,-0.5,0A0.5,0.5,0,1,1,0.5,0Z","symbolSize":240,"rowPadding":-2,"labelFontSize":10,"labelFont":"Liberation Sans Narrow, Liberation Sans"}},"fill":{"field":"group","type":"nominal","scale":{"domain":["PBS","CPA (150 mg/kg)"],"range":["white","#b3201c"]},"legend":{"orient":"none","legendX":95,"legendY":-26,"title":null,"symbolType":"M-1,0L-0.5,0M0.5,0L1,0M0.5,0A0.5,0.5,0,1,1,-0.5,0A0.5,0.5,0,1,1,0.5,0Z","symbolSize":240,"rowPadding":-2,"labelFontSize":10,"labelFont":"Liberation Sans Narrow, Liberation Sans"}}}}
   ]},
  {"width":170,"height":65,
   "title":{"text":["","BALB/cJ"],"lineHeight":23,"frame":"group","fontSize":22,"font":"Liberation Sans Narrow, Liberation Sans","offset":40},
   "data":{"values":[
    {"day":1,"group":"PBS","mean":162,"lo":160,"hi":164},
    {"day":3,"group":"PBS","mean":162.5,"lo":161.5,"hi":163.5},
    {"day":7,"group":"PBS","mean":161.2,"lo":159,"hi":163.6},
    {"day":1,"group":"CPA (150 mg/kg)","mean":161,"lo":157.5,"hi":165},
    {"day":3,"group":"CPA (150 mg/kg)","mean":155.7,"lo":155.2,"hi":156.2},
    {"day":7,"group":"CPA (150 mg/kg)","mean":159,"lo":158.3,"hi":159.7}]},
   "encoding":{"x":{"field":"day","type":"quantitative","scale":{"domain":[0,8],"nice":false},"axis":{"values":[0,2,4,6,8],"tickCount":20,"title":"(day)","titleX":176,"titleY":6,"titleAlign":"left","titleBaseline":"top","labelFontSize":10,"titleFontSize":10,"labelFont":"Liberation Sans Narrow, Liberation Sans","titleFont":"Liberation Sans Narrow, Liberation Sans"}}},
   "layer":[
    {"mark":{"type":"errorbar","thickness":1.5,"ticks":{"size":8,"thickness":1.5}},"encoding":{"y":{"field":"lo","type":"quantitative","scale":{"domain":[140,180],"nice":false,"zero":false},"axis":{"values":[140,150,160,170,180],"tickCount":20,"title":"Serum AMH (ng/ml)","labelFontSize":10,"titleFontSize":10,"labelFont":"Liberation Sans Narrow, Liberation Sans","titleFont":"Liberation Sans Narrow, Liberation Sans"}},"y2":{"field":"hi"},"color":{"field":"group","type":"nominal","scale":{"domain":["CPA (150 mg/kg)","PBS"],"range":["#b3201c","#111"]},"legend":null}}},
    {"mark":{"type":"line","strokeWidth":1.6},"encoding":{"y":{"field":"mean","type":"quantitative"},"stroke":{"field":"group","type":"nominal","scale":{"domain":["PBS","CPA (150 mg/kg)"],"range":["#111","#b3201c"]}}}},
    {"mark":{"type":"point","filled":true,"size":50,"strokeWidth":1.6,"opacity":1},"encoding":{"y":{"field":"mean","type":"quantitative"},"stroke":{"field":"group","type":"nominal","legend":{"orient":"none","legendX":90,"legendY":-26,"title":null,"symbolType":"M-1,0L-0.5,0M0.5,0L1,0M0.5,0A0.5,0.5,0,1,1,-0.5,0A0.5,0.5,0,1,1,0.5,0Z","symbolSize":240,"rowPadding":-2,"labelFontSize":10,"labelFont":"Liberation Sans Narrow, Liberation Sans"}},"fill":{"field":"group","type":"nominal","scale":{"domain":["PBS","CPA (150 mg/kg)"],"range":["white","#b3201c"]},"legend":{"orient":"none","legendX":90,"legendY":-26,"title":null,"symbolType":"M-1,0L-0.5,0M0.5,0L1,0M0.5,0A0.5,0.5,0,1,1,-0.5,0A0.5,0.5,0,1,1,0.5,0Z","symbolSize":240,"rowPadding":-2,"labelFontSize":10,"labelFont":"Liberation Sans Narrow, Liberation Sans"}}}}
   ]}
 ]
}
]
}
